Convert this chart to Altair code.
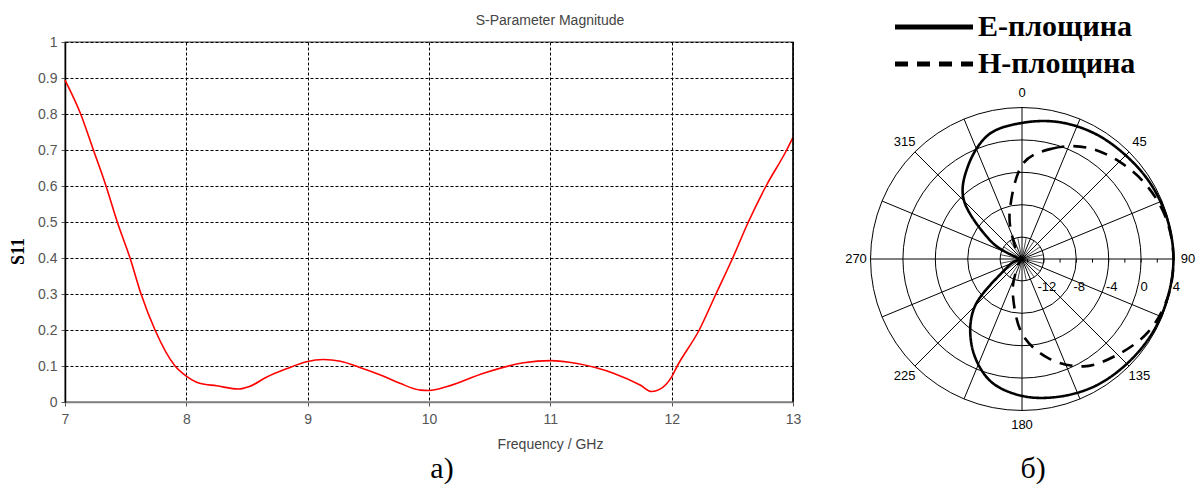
import altair as alt
import pandas as pd

# ---------------- data: left panel (S11 vs frequency) ----------------
freq = [7.0, 7.129, 7.234, 7.338, 7.431, 7.536, 7.627, 7.742, 7.907, 8.0, 8.11, 8.25,
        8.43, 8.52, 8.66, 8.83, 8.99, 9.13, 9.27, 9.43, 9.6, 9.76, 9.93, 10.0, 10.15,
        10.45, 10.78, 11.0, 11.22, 11.52, 11.74, 11.835, 11.90, 12.0, 12.046, 12.227,
        12.365, 12.503, 12.632, 12.778, 12.948, 13.0]
s11 = [0.894, 0.80, 0.70, 0.60, 0.50, 0.40, 0.30, 0.20, 0.10, 0.072, 0.052, 0.045,
       0.036, 0.043, 0.069, 0.093, 0.112, 0.118, 0.113, 0.096, 0.075, 0.052, 0.033, 0.032,
       0.043, 0.08, 0.109, 0.115, 0.107, 0.08, 0.047, 0.029, 0.035, 0.07, 0.10, 0.20,
       0.30, 0.40, 0.50, 0.60, 0.70, 0.735]
x_ticks = [7, 8, 9, 10, 11, 12, 13]
y_ticks = [0, 0.1, 0.2, 0.3, 0.4, 0.5, 0.6, 0.7, 0.8, 0.9, 1]

# ---------------- data: right panel (radiation patterns, dB) ----------------
pat_angles = [0, 15, 30, 45, 60, 75, 90, 105, 120, 135, 150, 165, 180, 195, 210, 225,
              240, 255, 270, 285, 300, 315, 330, 345]
e_plane_db = [2.1, 2.8, 3.2, 3.4, 3.7, 3.9, 4.0, 3.9, 3.8, 3.6, 3.4, 2.9, 2.2, 0.8, -2.3,
              -6.5, -12.5, -14.2, -14.5, -14.0, -10.2, -4.6, -1.4, 1.2]
h_plane_db = [-3.1, -0.6, 1.2, 2.3, 3.2, 3.8, 4.0, 3.9, 3.3, 2.0, 0.6, -2.0, -5.5, -10.3,
              -13.5, -14.5, -14.5, -14.5, -14.5, -14.5, -14.5, -14.5, -13.0, -8.8]
plane_names = ["Е-площина", "Н-площина"]
ring_db = [-12, -8, -4, 0, 4]
ring_labels = ["-12", "-8", "-4", "0", "4"]
spoke_angles = [i * 22.5 for i in range(16)]
minor_spoke_angles = [11.25 + i * 22.5 for i in range(16)]
tick_db = [-14, -12, -10, -8, -6, -4, -2, 0, 2, 4]
angle_labels = [0, 45, 90, 135, 180, 225, 270, 315]

# ---------------- layout constants ----------------
DB0 = -14.7          # dB value at the centre of the polar grid
RMAX = 4 - DB0       # outer ring in radial units
K = 8.1              # pixels per radial unit
LEFT_W, LEFT_H = 728, 360
RIGHT_W, RIGHT_H = 344, 400
CX_PX, CY_PX = 172, 217   # centre of the polar grid inside the right plot area

SANS = "Liberation Sans"
SERIF = "Liberation Serif"

# ================= left panel =================
s_df = pd.DataFrame({"f": freq, "s": s11})
xsc = alt.Scale(domain=[7, 13], nice=False, zero=False)
ysc = alt.Scale(domain=[0, 1], nice=False)

s_line = alt.Chart(s_df).mark_line(color="#ff0000", strokeWidth=1.6, interpolate="monotone").encode(
    x=alt.X("f:Q", scale=xsc, axis=alt.Axis(
        values=x_ticks, format="~g", title="Frequency / GHz", grid=True, gridColor="black",
        gridDash=[3, 2], gridOpacity=1, gridWidth=1, domainColor="#808080", domainWidth=1.5,
        tickColor="#555", tickSize=4, labelFont=SANS, labelFontSize=14, labelColor="#555",
        labelPadding=6, labelFlush=False, titleFont=SANS, titleFontSize=14, titleFontWeight="normal",
        titleColor="#444", titleX=485, titleY=46, titleBaseline="alphabetic", titleAlign="center")),
    y=alt.Y("s:Q", scale=ysc, axis=alt.Axis(
        values=y_ticks, format="~g", title="S11", grid=True, gridColor="black", gridDash=[3, 2],
        gridOpacity=1, gridWidth=1, domainColor="black", domainWidth=1.5, tickColor="#555",
        tickSize=4, labelFont=SANS, labelFontSize=14, labelColor="#555", labelPadding=4,
        labelFlush=False, titleFont=SERIF, titleFontSize=18, titleFontWeight="bold",
        titleColor="black", titleX=-47, titleY=209, titleBaseline="middle", titleAlign="center",
        titleAngle=270)),
)
right_border = alt.Chart(pd.DataFrame({"f": [13]})).mark_rule(color="black", strokeWidth=1.5).encode(
    x=alt.X("f:Q", scale=xsc))
lab_a = alt.Chart(pd.DataFrame({"t": ["а)"]})).mark_text(
    font=SERIF, fontSize=30, color="black", align="center", baseline="alphabetic").encode(
    x=alt.value(377), y=alt.value(436), text="t:N")

left = alt.layer(s_line, right_border, lab_a).properties(
    width=LEFT_W, height=LEFT_H,
    title=alt.TitleParams("S-Parameter Magnitude", font=SANS, fontSize=14, fontWeight="normal",
                          color="#444", anchor="middle", dx=121, offset=7),
    view=alt.ViewBackground(stroke="#808080", strokeWidth=1.5),
)

# ================= right panel =================
xr = alt.Scale(domain=[-CX_PX / K, (RIGHT_W - CX_PX) / K], nice=False, zero=False)
yr = alt.Scale(domain=[-(RIGHT_H - CY_PX) / K, CY_PX / K], nice=False, zero=False)

rows = []
for name, vals in zip(plane_names, [e_plane_db, h_plane_db]):
    for i, (a, d) in enumerate(zip(pat_angles, vals)):
        rows.append({"plane": name, "ang": a, "db": d, "ord": i})
pol_df = pd.DataFrame(rows)

rr_expr = f"max(datum.db - ({DB0}), 0)"

rings = alt.Chart(pd.DataFrame({"db": ring_db})).transform_calculate(
    rr=rr_expr, zero="0"
).transform_calculate(
    sz=f"pow(2 * datum.rr * {K}, 2)"
).mark_point(shape="circle", filled=False, color="black", strokeWidth=1, opacity=1).encode(
    x=alt.X("zero:Q", scale=xr, axis=None),
    y=alt.Y("zero:Q", scale=yr, axis=None),
    size=alt.Size("sz:Q", scale=None, legend=None),
)

spokes = alt.Chart(pd.DataFrame({"ang": spoke_angles})).transform_calculate(
    x0="0", y0="0",
    x1=f"{RMAX} * sin(datum.ang * PI / 180)",
    y1=f"{RMAX} * cos(datum.ang * PI / 180)",
).mark_rule(color="black", strokeWidth=1).encode(
    x=alt.X("x0:Q", scale=xr, axis=None), y=alt.Y("y0:Q", scale=yr, axis=None),
    x2="x1:Q", y2="y1:Q")

inner_r = ring_db[0] - DB0
minor_spokes = alt.Chart(pd.DataFrame({"ang": minor_spoke_angles})).transform_calculate(
    x0="0", y0="0",
    x1=f"{inner_r} * sin(datum.ang * PI / 180)",
    y1=f"{inner_r} * cos(datum.ang * PI / 180)",
).mark_rule(color="black", strokeWidth=0.7).encode(
    x=alt.X("x0:Q", scale=xr, axis=None), y=alt.Y("y0:Q", scale=yr, axis=None),
    x2="x1:Q", y2="y1:Q")

ticks = alt.Chart(pd.DataFrame({"db": tick_db})).transform_calculate(
    rr=rr_expr, y0="0", y1="-0.45"
).mark_rule(color="black", strokeWidth=1).encode(
    x=alt.X("rr:Q", scale=xr, axis=None), y=alt.Y("y0:Q", scale=yr, axis=None), y2="y1:Q")

ring_text = alt.Chart(pd.DataFrame({"db": ring_db, "t": ring_labels})).transform_calculate(
    rr=rr_expr, zero="0"
).mark_text(font=SANS, fontSize=13, color="black", align="center", baseline="middle",
            dx=3, dy=28).encode(
    x=alt.X("rr:Q", scale=xr, axis=None), y=alt.Y("zero:Q", scale=yr, axis=None), text="t:N")

LAB_R = 166 / K
ang_text = alt.Chart(pd.DataFrame({"ang": angle_labels})).transform_calculate(
    lx=f"{LAB_R} * sin(datum.ang * PI / 180)",
    ly=f"{LAB_R} * cos(datum.ang * PI / 180)",
    t="toString(datum.ang)",
).mark_text(font=SANS, fontSize=13, color="black", align="center", baseline="middle").encode(
    x=alt.X("lx:Q", scale=xr, axis=None), y=alt.Y("ly:Q", scale=yr, axis=None), text="t:N")

patterns = alt.Chart(pol_df).transform_calculate(
    rr=rr_expr,
).transform_calculate(
    px="datum.rr * sin(datum.ang * PI / 180)",
    py="datum.rr * cos(datum.ang * PI / 180)",
).mark_line(color="black", strokeWidth=2.6, interpolate="cardinal-closed").encode(
    x=alt.X("px:Q", scale=xr, axis=None),
    y=alt.Y("py:Q", scale=yr, axis=None),
    order="ord:Q",
    strokeDash=alt.StrokeDash("plane:N", scale=alt.Scale(domain=plane_names, range=[[1, 0], [13, 9]]),
                              legend=alt.Legend(
                                  title=None, orient="none", legendX=847, legendY=-37,
                                  symbolType="M-2,0H2", symbolSize=1521, symbolStrokeWidth=5,
                                  symbolStrokeColor="black", labelFont=SERIF, labelFontSize=30,
                                  labelFontWeight="bold", labelColor="black", labelOffset=22,
                                  rowPadding=0, labelLimit=400, padding=0)),
)

lab_b = alt.Chart(pd.DataFrame({"t": ["б)"]})).mark_text(
    font=SERIF, fontSize=30, color="black", align="center", baseline="alphabetic").encode(
    x=alt.value(183), y=alt.value(436), text="t:N")

right = alt.layer(rings, spokes, minor_spokes, ticks, ring_text, ang_text, patterns, lab_b).properties(
    width=RIGHT_W, height=RIGHT_H, view=alt.ViewBackground(stroke=None),
)

chart = alt.hconcat(left, right, spacing=57, bounds="flush").properties(
    background="white", padding={"left": 8, "top": 5, "right": 0, "bottom": 0}
).configure_view(stroke=None)

chart.save("out.html", embed_options={"renderer": "svg", "actions": False})
